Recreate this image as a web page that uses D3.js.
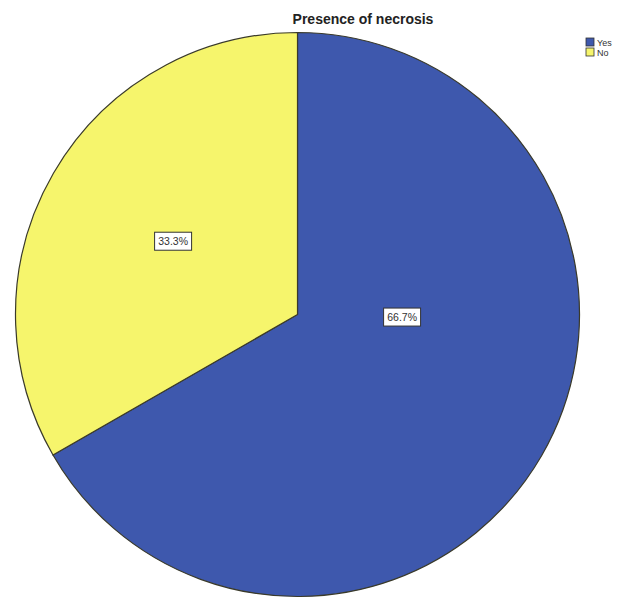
<!DOCTYPE html>
<html>
<head>
<meta charset="utf-8">
<script src="https://cdn.jsdelivr.net/npm/d3@7/dist/d3.min.js"></script>
<style>
  html, body { margin: 0; padding: 0; background: #fff; overflow: hidden; }
  svg { display: block; font-family: "Liberation Sans", Arial, sans-serif; }
</style>
</head>
<body>
<svg id="chart" width="623" height="599"></svg>
<script>
// Presence of necrosis: share of cases
const categories = ["Yes", "No"];
const values = [66.7, 33.3];
const labels = ["66.7%", "33.3%"];
const colors = ["#3e58ad", "#f6f56c"];

const svg = d3.select("#chart");
const cx = 297.5, cy = 314.5, r = 282;

svg.append("text")
  .attr("x", 363).attr("y", 24)
  .attr("text-anchor", "middle")
  .attr("font-size", 14).attr("font-weight", "bold")
  .attr("fill", "#222")
  .text("Presence of necrosis");

const pie = d3.pie().sort(null).value(d => d)(values);
const arc = d3.arc().innerRadius(0).outerRadius(r);

const g = svg.append("g").attr("transform", `translate(${cx},${cy})`);
g.selectAll("path.slice").data(pie).join("path")
  .attr("class", "slice")
  .attr("d", arc)
  .attr("fill", (d, i) => colors[i])
  .attr("stroke", "#3a3a2a")
  .attr("stroke-width", 1.2);

// Boxed value labels; placement as polar offset (angle from 12 o'clock, fraction of radius)
const labelPlacement = [
  { angle: 91.4 * Math.PI / 180, dist: 0.371 },
  { angle: 300.5 * Math.PI / 180, dist: 0.512 }
];
const lg = g.selectAll("g.lbl").data(pie).join("g")
  .attr("class", "lbl")
  .attr("transform", (d, i) => {
    const p = labelPlacement[i];
    const x = Math.sin(p.angle) * p.dist * r;
    const y = -Math.cos(p.angle) * p.dist * r;
    return `translate(${x},${y})`;
  });
lg.append("rect")
  .attr("x", -18.5).attr("y", -9)
  .attr("width", 37).attr("height", 18)
  .attr("fill", "#fff").attr("stroke", "#333").attr("stroke-width", 1);
lg.append("text")
  .attr("text-anchor", "middle").attr("dy", "0.35em")
  .attr("font-size", 10.5).attr("fill", "#333")
  .text((d, i) => labels[i]);

// Legend
const leg = svg.append("g").attr("transform", "translate(586,38)");
const li = leg.selectAll("g").data(categories).join("g")
  .attr("transform", (d, i) => `translate(0,${i * 10})`);
li.append("rect")
  .attr("width", 8).attr("height", 8)
  .attr("fill", (d, i) => colors[i])
  .attr("stroke", "#333").attr("stroke-width", 0.8);
li.append("text")
  .attr("x", 11).attr("y", 7.5)
  .attr("font-size", 9).attr("fill", "#333")
  .text(d => d);
</script>
</body>
</html>
